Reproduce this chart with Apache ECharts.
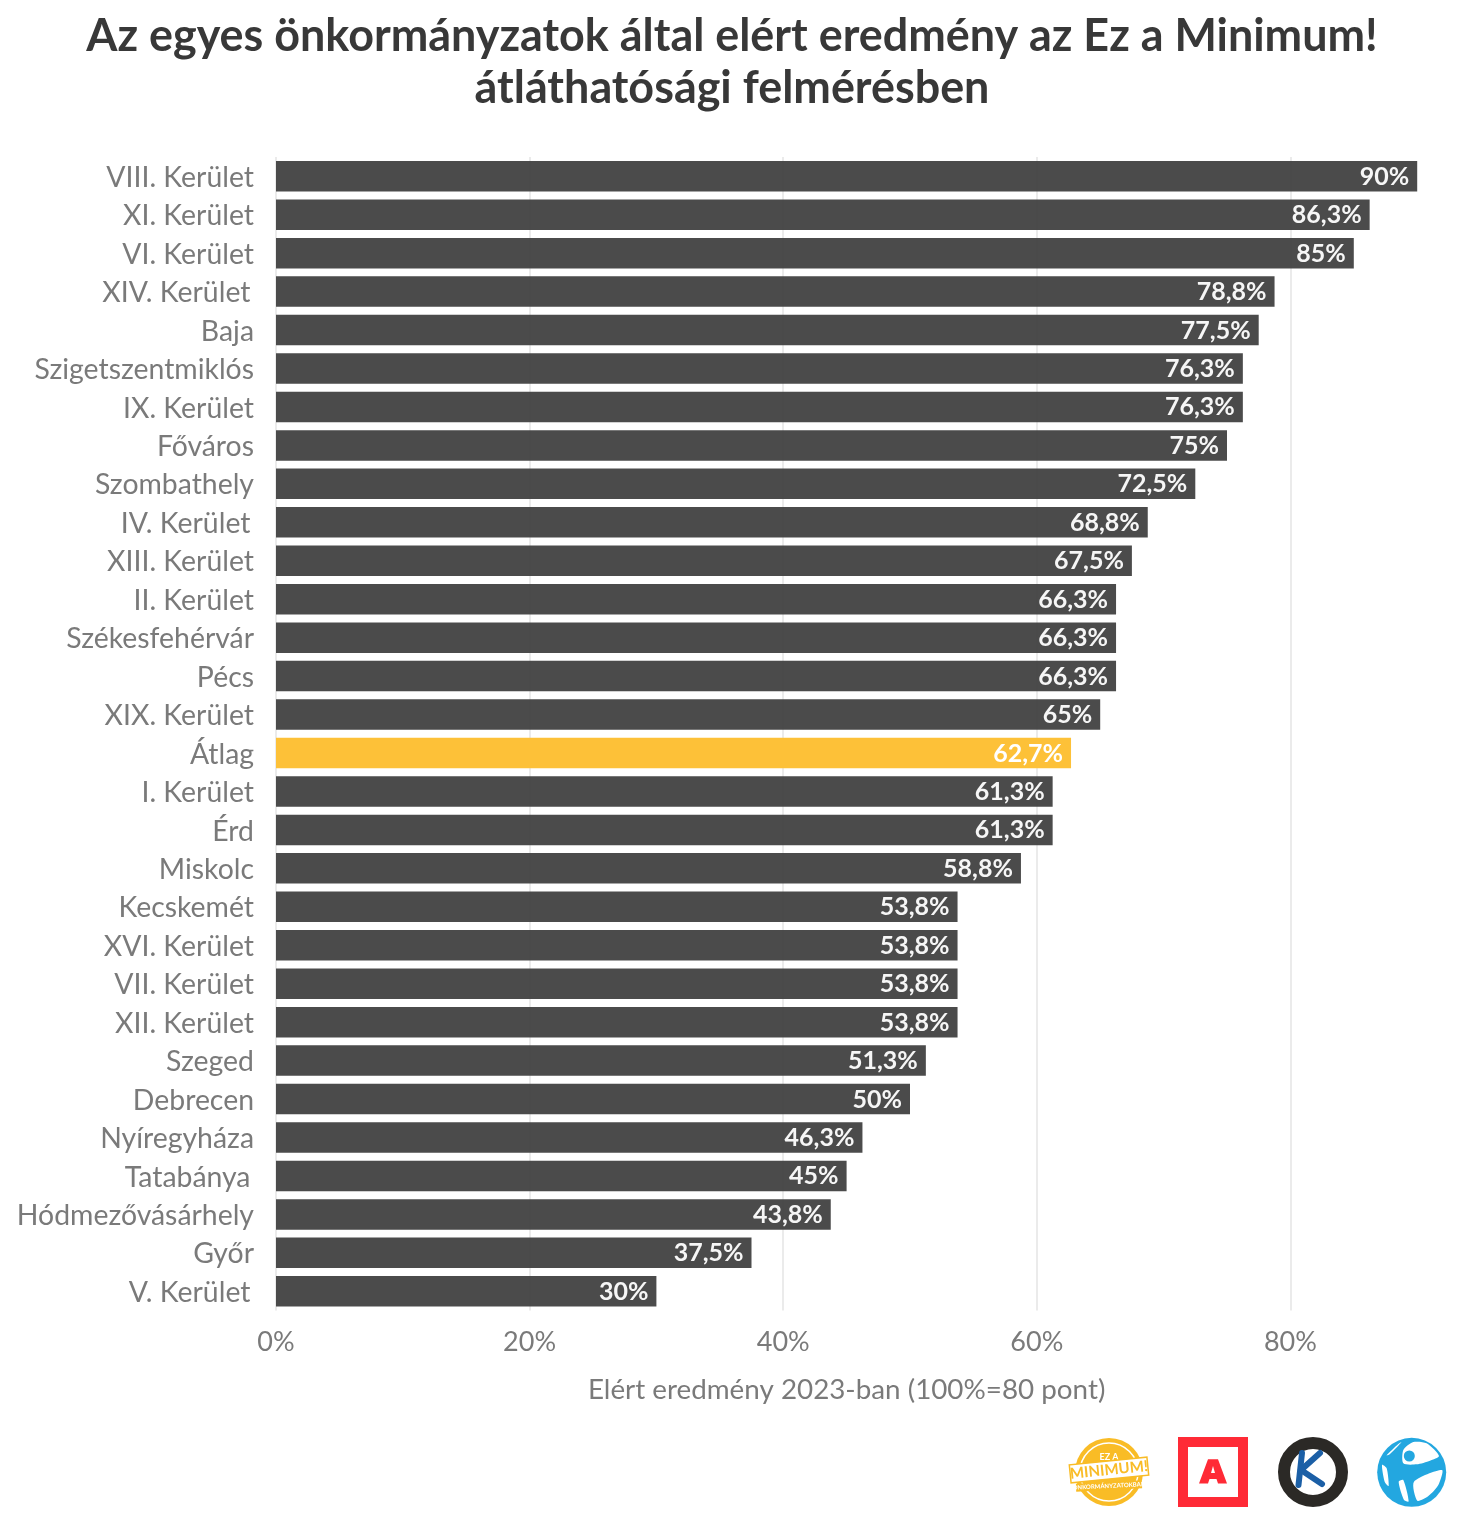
<!DOCTYPE html>
<html>
<head>
<meta charset="utf-8">
<style>
  html, body { margin: 0; padding: 0; background: #fff; }
  #chart { width: 1467px; height: 1532px; }
</style>
<script src="https://cdn.jsdelivr.net/npm/echarts@6/dist/echarts.min.js"></script>
</head>
<body>
<div id="chart"></div>
<script>
// the thin spaces stand for the trailing spaces of the source labels, they shift the text a bit to the left
const categories = [
  'VIII. Kerület', 'XI. Kerület', 'VI. Kerület', 'XIV. Kerület\u2009', 'Baja',
  'Szigetszentmiklós', 'IX. Kerület', 'Főváros', 'Szombathely', 'IV. Kerület\u2009',
  'XIII. Kerület', 'II. Kerület', 'Székesfehérvár', 'Pécs', 'XIX. Kerület',
  'Átlag', 'I. Kerület', 'Érd', 'Miskolc', 'Kecskemét',
  'XVI. Kerület', 'VII. Kerület', 'XII. Kerület', 'Szeged', 'Debrecen',
  'Nyíregyháza', 'Tatabánya\u2009', 'Hódmezővásárhely', 'Győr', 'V. Kerület\u2009'
]
// points out of 80 as percent, the labels round these to one decimal
const values = [
  90, 86.25, 85, 78.75, 77.5,
  76.25, 76.25, 75, 72.5, 68.75,
  67.5, 66.25, 66.25, 66.25, 65,
  62.7, 61.25, 61.25, 58.75, 53.75,
  53.75, 53.75, 53.75, 51.25, 50,
  46.25, 45, 43.75, 37.5, 30
]
const titleLines = 'Az egyes önkormányzatok által elért eredmény az Ez a Minimum!\nátláthatósági felmérésben'
const axisName = 'Elért eredmény 2023-ban (100%=80 pont)'

const FONT = 'Lato'
const GREY = '#7a7a7a'
const GOLD = '#F9BC26'
const RED = '#FF2A36'
const TI_BLUE = '#23A7E0'

// the Transparency logo was traced on a 3x crop, so its points are scaled down here
const tiPoly = pts => ({
  type: 'polygon',
  shape: { points: pts.map(([x, y]) => [1370 + x / 3, 1430 + y / 3]), smooth: 0.25 },
  style: { fill: '#fff' }
})

const logos = [
  // Ez a Minimum stamp
  { type: 'circle', shape: { cx: 1109, cy: 1472, r: 34 }, style: { fill: GOLD } },
  { type: 'circle', shape: { cx: 1109, cy: 1472, r: 29 }, style: { fill: 'none', stroke: '#fff', lineWidth: 1.5 } },
  { type: 'text', style: { x: 1109, y: 1457, text: 'EZ A', fill: '#fff', font: `bold 9px ${FONT}`, align: 'center', verticalAlign: 'middle' } },
  { type: 'rect', x: 1109, y: 1470, rotation: 0.1, shape: { x: -39, y: -9, width: 78, height: 18 }, style: { fill: '#fff', stroke: GOLD, lineWidth: 1.5 } },
  { type: 'text', x: 1109, y: 1470, rotation: 0.1, style: { x: 0, y: 0, text: 'MINIMUM!', fill: GOLD, font: `bold 15px ${FONT}`, align: 'center', verticalAlign: 'middle' } },
  { type: 'rect', x: 1109, y: 1486, rotation: 0.05, shape: { x: -33, y: -4, width: 66, height: 8 }, style: { fill: GOLD } },
  { type: 'text', x: 1109, y: 1486, rotation: 0.05, style: { x: 0, y: 0, text: 'ÖNKORMÁNYZATOKBAN', fill: '#fff', font: `bold 6px ${FONT}`, align: 'center', verticalAlign: 'middle' } },
  // red square A
  { type: 'rect', shape: { x: 1183, y: 1442, width: 60, height: 60 }, style: { fill: '#fff', stroke: RED, lineWidth: 10 } },
  { type: 'polygon', shape: { points: [[1208, 1459.3], [1218, 1459.3], [1227, 1483.5], [1218, 1483.5], [1216.5, 1479], [1209.5, 1479], [1208, 1483.5], [1199, 1483.5]] }, style: { fill: RED } },
  { type: 'polygon', shape: { points: [[1213, 1466], [1215, 1473], [1211, 1473]] }, style: { fill: '#fff' } },
  // K ring
  { type: 'circle', shape: { cx: 1313, cy: 1472, r: 29 }, style: { fill: '#fff', stroke: '#2b2926', lineWidth: 12 } },
  { type: 'polyline', shape: { points: [[1302, 1453], [1298.5, 1485]] }, style: { fill: 'none', stroke: '#1B5FA6', lineWidth: 6, lineCap: 'round' } },
  { type: 'polyline', shape: { points: [[1320, 1453], [1301, 1470], [1322, 1484]] }, style: { fill: 'none', stroke: '#1B5FA6', lineWidth: 6, lineCap: 'round', lineJoin: 'round' } },
  // Transparency globe
  { type: 'circle', shape: { cx: 1411.7, cy: 1472.3, r: 34.5 }, style: { fill: TI_BLUE } },
  tiPoly([[100, 60], [130, 36], [170, 40], [207, 78], [180, 92], [140, 103], [100, 100]]),
  tiPoly([[132, 155], [216, 120], [205, 165], [175, 198], [142, 212]]),
  tiPoly([[36, 105], [50, 115], [56, 168], [44, 155]]),
  tiPoly([[50, 76], [85, 42], [95, 36], [60, 72]]),
  tiPoly([[86, 155], [100, 150], [116, 214], [102, 210]]),
  { type: 'circle', shape: { cx: 1409.3, cy: 1456, r: 5.5 }, style: { fill: TI_BLUE } }
]

const option = {
  animation: false,
  backgroundColor: '#fff',
  textStyle: { fontFamily: FONT },
  title: {
    text: titleLines,
    left: 727,
    top: 6,
    textAlign: 'center',
    textStyle: { fontFamily: FONT, fontSize: 44.9, fontWeight: 'bold', color: '#383838', lineHeight: 52 }
  },
  grid: { left: 276, top: 157, width: 1141.2, height: 1153.5, containLabel: false },
  xAxis: {
    type: 'value',
    min: 0,
    max: 90,
    interval: 20,
    name: axisName,
    nameLocation: 'middle',
    nameGap: 66,
    nameTextStyle: { fontFamily: FONT, fontSize: 27.8, color: GREY },
    axisLine: { show: false },
    axisTick: { show: false },
    axisLabel: {
      fontFamily: FONT,
      fontSize: 27,
      color: GREY,
      margin: 18,
      showMaxLabel: false,
      formatter: v => `${v}%`
    },
    splitLine: { show: true, showMaxLine: false, lineStyle: { color: '#ebebeb', width: 2 } }
  },
  yAxis: {
    type: 'category',
    inverse: true,
    data: categories,
    axisLine: { show: false },
    axisTick: { show: false },
    axisLabel: {
      margin: 22,
      formatter: '{a|{value}}',
      rich: { a: { fontFamily: FONT, fontSize: 28.4, color: GREY, padding: [3, 0, 0, 0] } }
    }
  },
  series: [{
    type: 'bar',
    barWidth: 30.5,
    data: values.map((v, i) => ({
      value: v,
      itemStyle: categories[i] === 'Átlag' ? { color: '#FDC138' } : { color: '#414141', opacity: 0.95 }
    })),
    label: {
      show: true,
      position: 'insideRight',
      distance: 8,
      offset: [0, 0.5],
      fontFamily: FONT,
      fontSize: 25,
      fontWeight: 'bold',
      color: '#fff',
      formatter: p => `${String(+p.value.toFixed(1)).replace('.', ',')}%`
    }
  }],
  graphic: logos
}

const chart = echarts.init(document.getElementById('chart'))
chart.setOption(option)
</script>
</body>
</html>
